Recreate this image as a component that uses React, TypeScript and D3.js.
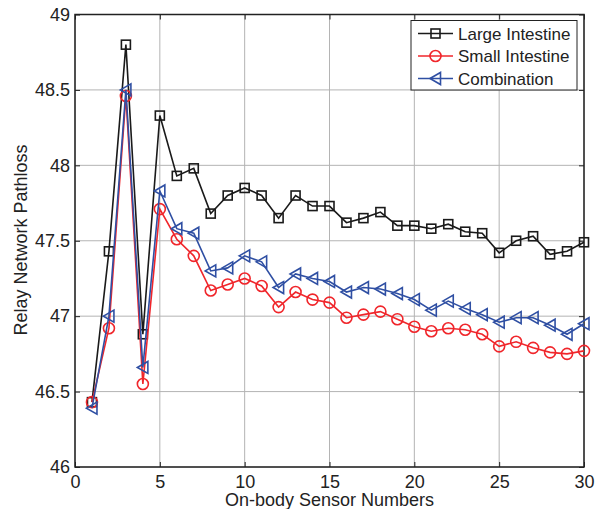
import React, { useEffect, useRef } from 'react';
import * as d3 from 'd3';

const sensors = [1, 2, 3, 4, 5, 6, 7, 8, 9, 10, 11, 12, 13, 14, 15, 16, 17, 18, 19, 20, 21, 22, 23, 24, 25, 26, 27, 28, 29, 30];
const largeIntestine = [46.43, 47.43, 48.80, 46.88, 48.33, 47.93, 47.98, 47.68, 47.80, 47.85, 47.80, 47.65, 47.80, 47.73, 47.73, 47.62, 47.65, 47.69, 47.60, 47.60, 47.58, 47.61, 47.56, 47.55, 47.42, 47.50, 47.53, 47.41, 47.43, 47.49];
const smallIntestine = [46.43, 46.92, 48.46, 46.55, 47.71, 47.51, 47.40, 47.17, 47.21, 47.25, 47.20, 47.06, 47.16, 47.11, 47.09, 46.99, 47.01, 47.03, 46.98, 46.93, 46.90, 46.92, 46.91, 46.88, 46.80, 46.83, 46.79, 46.76, 46.75, 46.77];
const combination = [46.39, 47.00, 48.50, 46.66, 47.83, 47.58, 47.55, 47.30, 47.32, 47.40, 47.36, 47.19, 47.28, 47.25, 47.23, 47.16, 47.19, 47.18, 47.15, 47.11, 47.04, 47.10, 47.05, 47.01, 46.96, 46.99, 46.99, 46.94, 46.88, 46.95];
const seriesNames = ['Large Intestine', 'Small Intestine', 'Combination'];
const xTicks = [0, 5, 10, 15, 20, 25, 30];
const yTicks = [46, 46.5, 47, 47.5, 48, 48.5, 49];

const colors = ['#1a1a1a', '#f0262b', '#2f4fa3'];
const markers = ['square', 'circle', 'triangle'];
const font = 'Liberation Sans, Arial, sans-serif';

function drawMarker(g: any, kind: string, x: number, y: number, color: string) {
  if (kind === 'square') {
    g.append('rect').attr('x', x - 4.5).attr('y', y - 4.5).attr('width', 9).attr('height', 9)
      .attr('fill', 'none').attr('stroke', color).attr('stroke-width', 1.6)
  } else if (kind === 'circle') {
    g.append('circle').attr('cx', x).attr('cy', y).attr('r', 5.5)
      .attr('fill', 'none').attr('stroke', color).attr('stroke-width', 1.6)
  } else {
    var p = [[x - 5.5, y], [x + 5, y - 6], [x + 5, y + 6]]
    g.append('path').attr('d', 'M' + p.map((q) => q.join(',')).join('L') + 'Z')
      .attr('fill', 'none').attr('stroke', color).attr('stroke-width', 1.6)
  }
}

export default function App() {
  const ref = useRef<SVGSVGElement>(null);

  useEffect(() => {
    document.body.style.margin = '0'
    var svg = d3.select(ref.current)
    svg.selectAll('*').remove()
    var left = 75, right = 584, top = 14.5, bottom = 467

    var x = d3.scaleLinear().domain([0, 30]).range([left, right])
    var y = d3.scaleLinear().domain([46, 49]).range([bottom, top])

    // grid
    var grid = svg.append('g')
    xTicks.forEach((t) => {
      grid.append('line').attr('x1', x(t)).attr('x2', x(t)).attr('y1', top).attr('y2', bottom)
        .attr('stroke', '#b4b4b4').attr('stroke-width', 1)
    })
    yTicks.forEach((t) => {
      grid.append('line').attr('x1', left).attr('x2', right).attr('y1', y(t)).attr('y2', y(t))
        .attr('stroke', '#b4b4b4').attr('stroke-width', 1)
    })

    // axes with inward ticks
    var xAxis = d3.axisBottom(x).tickValues(xTicks).tickSize(-5).tickPadding(8.5).tickFormat(d3.format('d'))
    var yAxis = d3.axisLeft(y).tickValues(yTicks).tickSize(-5).tickPadding(5).tickFormat((d: any) => String(d))
    var gx = svg.append('g').attr('transform', 'translate(0,' + bottom + ')').call(xAxis)
    var gy = svg.append('g').attr('transform', 'translate(' + left + ',0)').call(yAxis)
    svg.append('g').attr('transform', 'translate(0,' + top + ')')
      .call(d3.axisTop(x).tickValues(xTicks).tickSize(-5).tickFormat(() => ''))
    svg.append('g').attr('transform', 'translate(' + right + ',0)')
      .call(d3.axisRight(y).tickValues(yTicks).tickSize(-5).tickFormat(() => ''))
    svg.selectAll('.domain').remove()
    svg.selectAll('.tick line').attr('stroke', '#222').attr('stroke-width', 1)
    ;[gx, gy].forEach((g) => g.selectAll('text').attr('font-family', font).attr('font-size', 18).attr('fill', '#222'))

    svg.append('rect').attr('x', left).attr('y', top).attr('width', right - left).attr('height', bottom - top)
      .attr('fill', 'none').attr('stroke', '#222').attr('stroke-width', 1.5)

    // series
    var all = [largeIntestine, smallIntestine, combination]
    var line = d3.line<number>().x((d, i) => x(sensors[i])).y((d) => y(d))
    all.forEach((vals, k) => {
      var g = svg.append('g')
      g.append('path').datum(vals).attr('d', line).attr('fill', 'none')
        .attr('stroke', colors[k]).attr('stroke-width', 1.6)
      vals.forEach((v, i) => drawMarker(g, markers[k], x(sensors[i]), y(v), colors[k]))
    })

    // legend
    var lg = svg.append('g')
    lg.append('rect').attr('x', 411).attr('y', 20.5).attr('width', 166).attr('height', 69.5)
      .attr('fill', '#fff').attr('stroke', '#222').attr('stroke-width', 1)
    seriesNames.forEach((name, k) => {
      var ly = 33.5 + k * 22.5
      lg.append('line').attr('x1', 418).attr('x2', 453).attr('y1', ly).attr('y2', ly)
        .attr('stroke', colors[k]).attr('stroke-width', 1.6)
      drawMarker(lg, markers[k], 435.5, ly, colors[k])
      lg.append('text').attr('x', 458).attr('y', ly + 6).text(name)
        .attr('font-family', font).attr('font-size', 17).attr('fill', '#222')
    })

    // labels
    svg.append('text').attr('x', (left + right) / 2).attr('y', 506).attr('text-anchor', 'middle')
      .attr('font-family', font).attr('font-size', 18).attr('fill', '#222').text('On-body Sensor Numbers')
    svg.append('text').attr('transform', 'translate(27,240) rotate(-90)').attr('text-anchor', 'middle')
      .attr('font-family', font).attr('font-size', 18).attr('fill', '#222').text('Relay Network Pathloss')
  }, [])

  return <svg ref={ref} width={609} height={509} style={{ display: 'block', background: '#fff' }} />
}
